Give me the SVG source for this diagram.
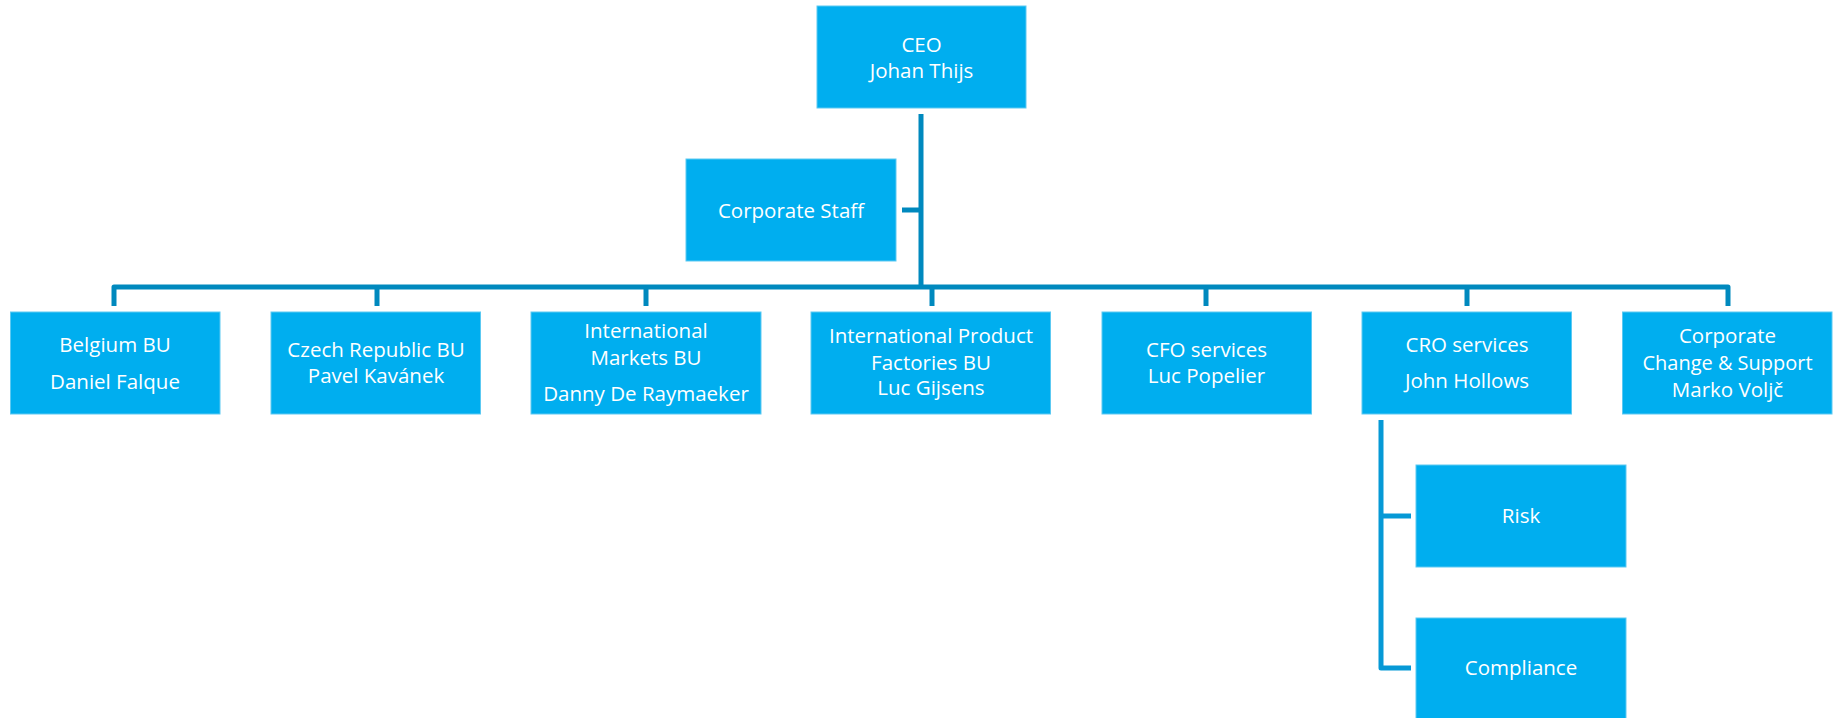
<svg xmlns="http://www.w3.org/2000/svg" width="1838" height="718" viewBox="0 0 1838 718">
<style>
.box{fill:#00AEEF;stroke:#5CC9F2;stroke-width:1}
.t{font-family:"Open Sans","Noto Sans","Liberation Sans",sans-serif;font-size:20.5px;fill:#FFFFFF;text-anchor:middle}
.c{fill:none;stroke:#0089BE;stroke-width:5;stroke-linejoin:round}
.s{fill:none;stroke:#0699D6;stroke-width:5;stroke-linejoin:round}
</style>
<rect width="1838" height="718" fill="#FFFFFF"/>
<g id="connectors">
<path class="c" d="M921 114 V287"/>
<path class="c" d="M902 210 H921"/>
<path class="c" d="M114 306 V287 H1728 V306"/>
<path class="c" d="M377 287 V306"/>
<path class="c" d="M646 287 V306"/>
<path class="c" d="M932 287 V306"/>
<path class="c" d="M1206 287 V306"/>
<path class="c" d="M1467 287 V306"/>
<path class="s" d="M1381 420 V668 H1411"/>
<path class="s" d="M1381 516 H1411"/>
</g>
<g id="ceo">
<rect class="box" x="817" y="6" width="209" height="102"/>
<text class="t" x="921.5" y="51.7">CEO</text>
<text class="t" x="921.5" y="78.3">Johan Thijs</text>
</g>
<g id="corporate-staff">
<rect class="box" x="686" y="159" width="210" height="102"/>
<text class="t" x="791" y="217.7">Corporate Staff</text>
</g>
<g id="belgium-bu">
<rect class="box" x="10.5" y="312" width="209.5" height="102"/>
<text class="t" x="115" y="351.7">Belgium BU</text>
<text class="t" x="115" y="388.7">Daniel Falque</text>
</g>
<g id="czech-bu">
<rect class="box" x="271" y="312" width="209.5" height="102"/>
<text class="t" x="376" y="357.3">Czech Republic BU</text>
<text class="t" x="376" y="382.7">Pavel Kavánek</text>
</g>
<g id="international-markets-bu">
<rect class="box" x="531" y="312" width="230" height="102"/>
<text class="t" x="646" y="338.3">International</text>
<text class="t" x="646" y="365">Markets BU</text>
<text class="t" x="646" y="400.7">Danny De Raymaeker</text>
</g>
<g id="international-product-factories-bu">
<rect class="box" x="811" y="312" width="239.5" height="102"/>
<text class="t" x="931" y="343.3">International Product</text>
<text class="t" x="931" y="370">Factories BU</text>
<text class="t" x="931" y="395.3">Luc Gijsens</text>
</g>
<g id="cfo-services">
<rect class="box" x="1102" y="312" width="209.5" height="102"/>
<text class="t" x="1206.5" y="357.3">CFO services</text>
<text class="t" x="1206.5" y="382.7">Luc Popelier</text>
</g>
<g id="cro-services">
<rect class="box" x="1362" y="312" width="209.5" height="102"/>
<text class="t" x="1467" y="351.7">CRO services</text>
<text class="t" x="1467" y="388.3">John Hollows</text>
</g>
<g id="corporate-change-support">
<rect class="box" x="1622.5" y="312" width="209.5" height="102"/>
<text class="t" x="1727.5" y="343.3">Corporate</text>
<text class="t" x="1727.5" y="370" textLength="170" lengthAdjust="spacingAndGlyphs">Change &amp; Support</text>
<text class="t" x="1727.5" y="397.3">Marko Voljč</text>
</g>
<g id="risk">
<rect class="box" x="1416" y="465" width="210" height="102"/>
<text class="t" x="1521" y="523.3">Risk</text>
</g>
<g id="compliance">
<rect class="box" x="1416" y="618" width="210" height="102"/>
<text class="t" x="1521" y="675.3">Compliance</text>
</g>
</svg>
